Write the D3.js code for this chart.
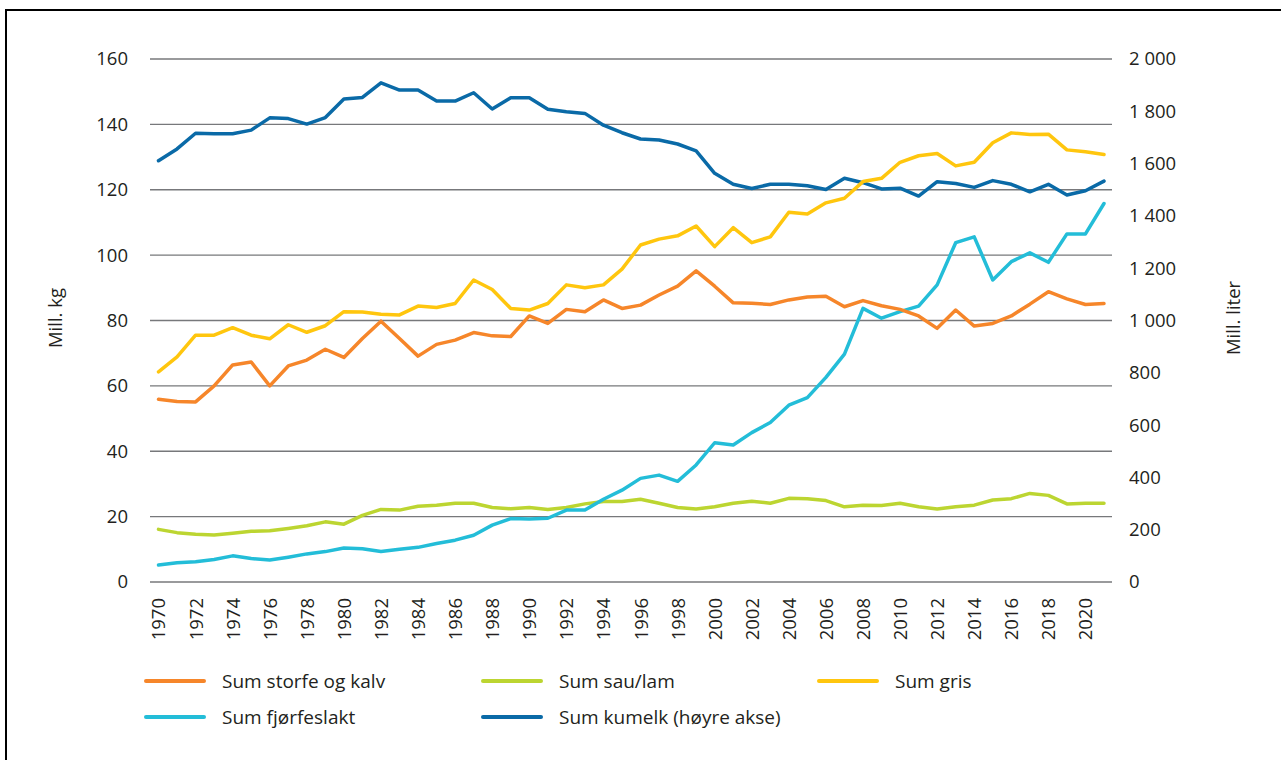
<!DOCTYPE html>
<html>
<head>
<meta charset="utf-8">
<script src="https://cdn.jsdelivr.net/npm/d3@7"></script>
<style>
  body { margin: 0; background: #fff; }
  text { font-family: "Open Sans", sans-serif; fill: #231f20; }
</style>
</head>
<body>
<script>

var years = d3.range(1970, 2022);

var storfe = [55.9, 55.2, 55.1, 60.0, 66.4, 67.3, 60.0, 66.1, 67.9, 71.2,
  68.7, 74.5, 79.8, 74.5, 69.1, 72.7, 74.0, 76.3, 75.3, 75.1,
  81.4, 79.1, 83.4, 82.7, 86.3, 83.7, 84.7, 87.8, 90.5, 95.2,
  90.5, 85.4, 85.3, 84.9, 86.3, 87.2, 87.4, 84.2, 86.1, 84.5,
  83.4, 81.4, 77.6, 83.2, 78.3, 79.1, 81.4, 85.0, 88.8, 86.6,
  84.9, 85.2];

var sau = [16.1, 15.1, 14.6, 14.4, 14.9, 15.5, 15.7, 16.4, 17.2, 18.4,
  17.7, 20.4, 22.2, 22.0, 23.2, 23.5, 24.1, 24.1, 22.8, 22.4,
  22.8, 22.2, 22.8, 23.9, 24.6, 24.6, 25.3, 24.1, 22.8, 22.3,
  23.0, 24.1, 24.7, 24.1, 25.6, 25.5, 24.9, 23.0, 23.5, 23.4,
  24.1, 23.0, 22.3, 23.0, 23.5, 25.1, 25.5, 27.1, 26.5, 23.9,
  24.1, 24.1];

var gris = [64.3, 68.9, 75.5, 75.5, 77.8, 75.5, 74.4, 78.7, 76.4, 78.4,
  82.7, 82.6, 81.9, 81.7, 84.4, 84.0, 85.2, 92.4, 89.5, 83.7,
  83.2, 85.2, 90.9, 90.0, 90.9, 95.7, 103.1, 104.9, 105.9, 108.9,
  102.6, 108.4, 103.8, 105.6, 113.1, 112.6, 116.0, 117.4, 122.5, 123.5,
  128.4, 130.4, 131.1, 127.3, 128.4, 134.4, 137.4, 136.9, 137.0, 132.2,
  131.6, 130.8];

var fjorfe = [5.2, 5.9, 6.2, 6.9, 8.0, 7.2, 6.7, 7.6, 8.6, 9.3,
  10.4, 10.2, 9.3, 10.0, 10.6, 11.8, 12.8, 14.3, 17.4, 19.4,
  19.3, 19.5, 22.0, 22.0, 25.3, 28.1, 31.7, 32.7, 30.8, 35.8,
  42.6, 41.9, 45.7, 48.8, 54.1, 56.4, 62.6, 69.7, 83.7, 80.7,
  82.7, 84.4, 90.9, 103.8, 105.6, 92.4, 98.0, 100.7, 97.8, 106.5,
  106.5, 115.8];

// kumelk is read on the right axis (mill. liter)
var kumelk = [1611, 1656, 1716, 1714, 1714, 1728, 1775, 1772, 1751, 1776,
  1847, 1853, 1909, 1881, 1881, 1839, 1839, 1871, 1809, 1852,
  1852, 1808, 1798, 1792, 1747, 1718, 1694, 1690, 1675, 1649,
  1563, 1521, 1505, 1521, 1521, 1515, 1501, 1544, 1527, 1503,
  1506, 1476, 1531, 1524, 1509, 1535, 1521, 1492, 1521, 1480,
  1496, 1533];

var leftTicks = [0, 20, 40, 60, 80, 100, 120, 140, 160];
var rightTicks = [0, 200, 400, 600, 800, 1000, 1200, 1400, 1600, 1800, 2000];
var yearTicks = d3.range(1970, 2022, 2);

var seriesNames = ["Sum storfe og kalv", "Sum sau/lam", "Sum gris", "Sum fjørfeslakt", "Sum kumelk (høyre akse)"];
var seriesColors = ["#f6862a", "#bcd531", "#ffc60e", "#23bdd8", "#0a6aa7"];

var width = 1281, height = 760;
var margin = { top: 59, bottom: 178, left: 150, right: 169 };

var svg = d3.select("body")
  .append("svg")
  .attr("width", width)
  .attr("height", height);

// frame (top and left edges visible)
svg.append("path")
  .attr("d", "M6," + (height + 5) + "V10H" + (width + 5))
  .attr("fill", "none")
  .attr("stroke", "#000")
  .attr("stroke-width", 2);

var xScale = d3.scaleLinear()
  .domain([1970, 2021])
  .range([158.5, 1104]);

var yLeft = d3.scaleLinear()
  .domain([0, 160])
  .range([height - margin.bottom, margin.top]);

var yRight = d3.scaleLinear()
  .domain([0, 2000])
  .range([height - margin.bottom, margin.top]);

var nb = d3.formatLocale({ decimal: ",", thousands: "\u00a0", grouping: [3], currency: ["", " kr"] });
var fmt = nb.format(",d");

// gridlines + left axis
var gLeft = svg.append("g")
  .attr("transform", "translate(150,0)")
  .call(d3.axisLeft(yLeft).tickValues(leftTicks).tickSize(0).tickPadding(22).tickFormat(function(d) { return d; }));
gLeft.select(".domain").remove();
gLeft.selectAll("text").attr("font-size", 18.5).attr("font-family", "Open Sans").attr("fill", "#231f20");

svg.append("g")
  .selectAll("line")
  .data(leftTicks)
  .enter()
  .append("line")
    .attr("x1", 150)
    .attr("x2", 1112)
    .attr("y1", function(d) { return yLeft(d); })
    .attr("y2", function(d) { return yLeft(d); })
    .attr("stroke", "#77787b")
    .attr("stroke-width", 1.3);

var gRight = svg.append("g")
  .attr("transform", "translate(1112,0)")
  .call(d3.axisRight(yRight).tickValues(rightTicks).tickSize(0).tickPadding(17).tickFormat(fmt));
gRight.select(".domain").remove();
gRight.selectAll("text").attr("font-size", 18.5).attr("font-family", "Open Sans").attr("fill", "#231f20");

var gX = svg.append("g")
  .attr("transform", "translate(0," + yLeft(0) + ")")
  .call(d3.axisBottom(xScale).tickValues(yearTicks).tickSize(0).tickFormat(function(d) { return d; }));
gX.select(".domain").remove();
gX.selectAll("text")
  .attr("font-size", 18.5)
  .attr("font-family", "Open Sans")
  .attr("fill", "#231f20")
  .attr("transform", "rotate(-90)")
  .attr("text-anchor", "end")
  .attr("x", -16)
  .attr("y", 0)
  .attr("dy", "0.35em");

// axis titles
svg.append("text")
  .attr("transform", "translate(62,318) rotate(-90)")
  .attr("text-anchor", "middle")
  .attr("font-size", 18.5)
  .text("Mill. kg");

svg.append("text")
  .attr("transform", "translate(1240,318) rotate(-90)")
  .attr("text-anchor", "middle")
  .attr("font-size", 18.5)
  .text("Mill. liter");

// lines
var leftSeries = [storfe, sau, gris, fjorfe];

var lineLeft = d3.line()
  .x(function(d, i) { return xScale(years[i]); })
  .y(function(d) { return yLeft(d); });

var lineRight = d3.line()
  .x(function(d, i) { return xScale(years[i]); })
  .y(function(d) { return yRight(d); });

var drawOrder = [4, 1, 3, 2, 0];
drawOrder.forEach(function(k) {
  svg.append("path")
    .datum(k == 4 ? kumelk : leftSeries[k])
    .attr("d", k == 4 ? lineRight : lineLeft)
    .attr("fill", "none")
    .attr("stroke", seriesColors[k])
    .attr("stroke-width", 3.5)
    .attr("stroke-linejoin", "round")
    .attr("stroke-linecap", "round");
});

// legend
var legendX = [146, 483, 819];
var legendY = [681, 717];

var legend = svg.selectAll(".legend")
  .data(seriesNames)
  .enter()
  .append("g")
    .attr("class", "legend")
    .attr("transform", function(d, i) { return "translate(" + legendX[i % 3] + "," + legendY[Math.floor(i / 3)] + ")"; });

legend.append("line")
  .attr("x1", 0)
  .attr("x2", 58)
  .attr("stroke", function(d, i) { return seriesColors[i]; })
  .attr("stroke-width", 4)
  .attr("stroke-linecap", "round");

legend.append("text")
  .attr("x", 76)
  .attr("dy", "0.35em")
  .attr("font-size", 19)
  .text(function(d) { return d; });

</script>
</body>
</html>
